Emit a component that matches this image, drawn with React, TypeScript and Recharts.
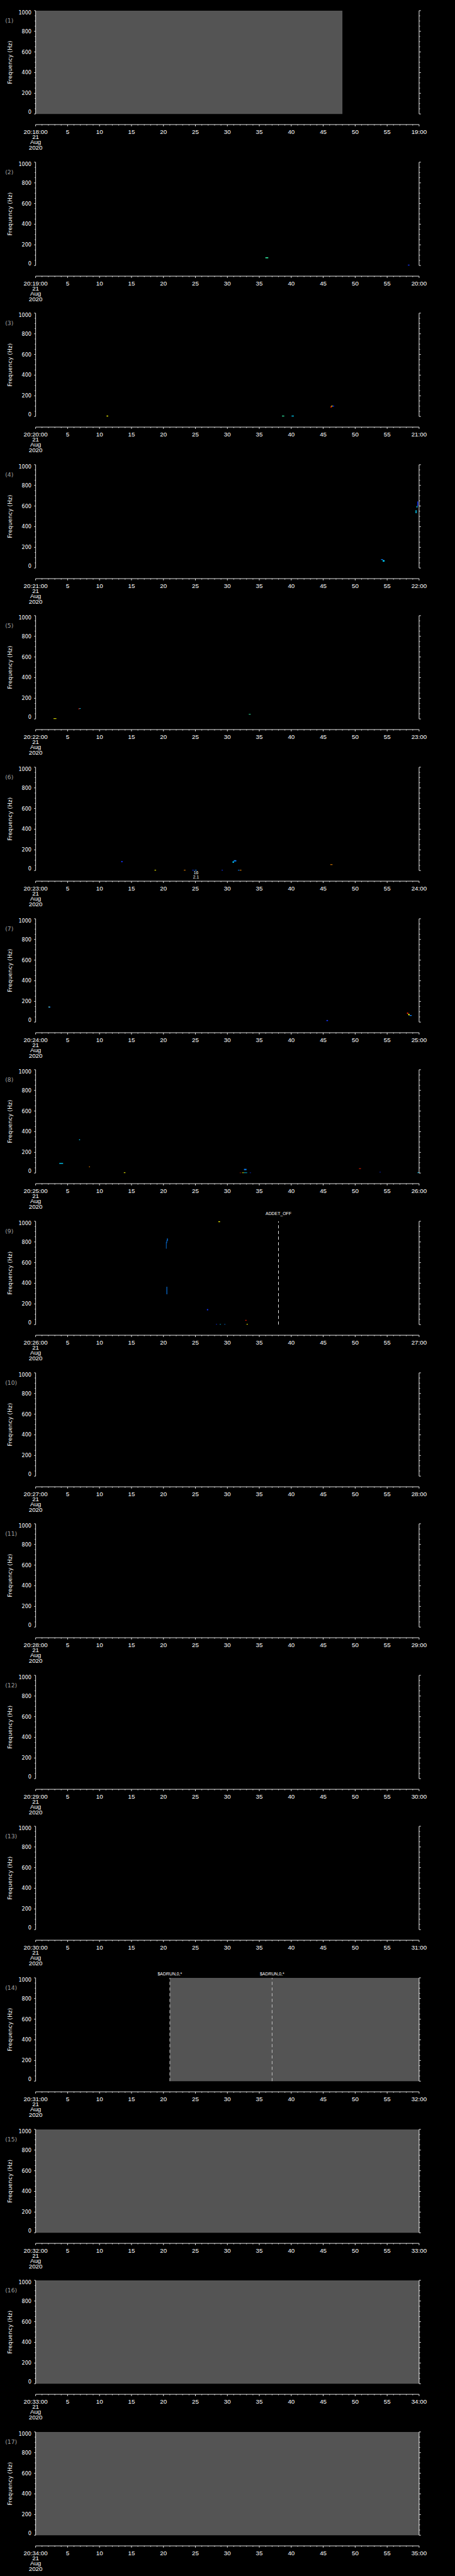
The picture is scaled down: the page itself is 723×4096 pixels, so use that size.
import React from 'react';
import { ComposedChart, XAxis, YAxis, ReferenceArea, ReferenceLine, ReferenceDot, Scatter } from 'recharts';

// ---------- data ----------
const PANEL_NUMBERS = [1, 2, 3, 4, 5, 6, 7, 8, 9, 10, 11, 12, 13, 14, 15, 16, 17];
const START_HOUR = 20;
const START_MINUTES = [18, 19, 20, 21, 22, 23, 24, 25, 26, 27, 28, 29, 30, 31, 32, 33, 34];
const DATE_LINES = ['21', 'Aug', '2020'];
const Y_TICKS = [0, 50, 100, 150, 200, 250, 300, 350, 400, 450, 500, 550, 600, 650, 700, 750, 800, 850, 900, 950, 1000];
const Y_MAJOR_STEP = 200;
const X_TICKS = Array.from({ length: 61 }, (_, i) => i);
const X_MAJOR_STEP = 5;
const Y_LABEL = 'Frequency (Hz)';
// corners of each panel's time/frequency frame
const FRAME_T = [0, 60];
const FRAME_F = [0, 1000];

// grey (saturated / no-data) spans: panel number, start s, end s
const FILL_PANEL = [1, 14, 15, 16, 17];
const FILL_START = [0, 21, 0, 0, 0];
const FILL_END = [48, 60, 60, 60, 60];

// event markers: panel number, time s, text
const EVENT_PANEL = [9, 14, 14];
const EVENT_TIME = [38, 21, 37];
const EVENT_TEXT = ['ADDET_OFF', '$ADRUN,0,*', '$ADRUN,0,*'];

// small annotations: panel number, time s, freq Hz, text
const NOTE_PANEL = [6, 6];
const NOTE_TIME = [25.1, 25.1];
const NOTE_FREQ = [-36, -80];
const NOTE_TEXT = ['16', '2.1'];

// spectrogram blobs: [t0, t1, f0, f1, intensity level]
const MARKS_02 = [
  [35.95, 36.4, 70, 80, 4],
  [58.25, 58.5, 0, 8, 1],
];
const MARKS_03 = [
  [11.1, 11.35, 0, 8, 5],
  [38.55, 38.9, 0, 8, 4],
  [40.05, 40.4, 0, 8, 3],
  [46.15, 46.3, 85, 100, 7],
  [46.3, 46.45, 95, 106, 5],
  [46.45, 46.7, 96, 104, 1],
];
const MARKS_04 = [
  [59.72, 59.86, 600, 645, 1],
  [59.6, 59.74, 585, 600, 3],
  [59.45, 59.6, 530, 560, 3],
  [54.05, 54.35, 78, 86, 2],
  [54.3, 54.6, 62, 76, 3],
];
const MARKS_05 = [
  [2.8, 3.25, 0, 6, 5],
  [6.7, 6.85, 94, 102, 7],
  [6.85, 7.05, 98, 104, 3],
  [33.35, 33.65, 42, 48, 4],
];
const MARKS_06 = [
  [13.4, 13.6, 80, 92, 1],
  [30.8, 31.05, 76, 88, 3],
  [31.0, 31.4, 88, 100, 2],
  [46.1, 46.45, 54, 60, 6],
  [18.6, 18.85, 0, 6, 5],
  [23.2, 23.45, 0, 6, 6],
  [24.5, 24.75, 0, 6, 1],
  [24.9, 25.2, 0, 6, 2],
  [29.1, 29.3, 0, 6, 1],
  [31.65, 31.9, 0, 6, 2],
  [31.95, 32.2, 0, 6, 6],
];
const MARKS_07 = [
  [2.0, 2.3, 140, 150, 2],
  [2.05, 2.15, 144, 150, 5],
  [45.5, 45.75, 10, 20, 1],
  [58.1, 58.3, 80, 92, 7],
  [58.3, 58.5, 66, 80, 5],
  [58.5, 58.85, 60, 68, 2],
];
const MARKS_08 = [
  [6.8, 6.95, 318, 326, 3],
  [3.7, 4.3, 89, 97, 3],
  [8.35, 8.5, 57, 63, 6],
  [13.8, 14.05, 0, 6, 5],
  [32.6, 33.0, 28, 40, 2],
  [32.3, 32.6, 0, 5, 5],
  [32.6, 33.1, 0, 5, 3],
  [33.5, 33.7, 0, 4, 1],
  [31.95, 32.1, 0, 4, 7],
  [50.6, 50.9, 40, 46, 7],
  [53.8, 54.0, 6, 10, 1],
  [59.75, 60, 0, 6, 3],
];
const MARKS_09 = [
  [28.6, 28.85, 992, 1000, 5],
  [20.4, 20.48, 735, 800, 2],
  [20.48, 20.56, 790, 815, 2],
  [20.56, 20.68, 810, 833, 2],
  [20.48, 20.58, 293, 366, 2],
  [26.8, 27.0, 138, 150, 1],
  [32.8, 33.0, 38, 45, 7],
  [33.0, 33.2, 0, 6, 5],
  [28.2, 28.4, 0, 4, 1],
  [28.8, 29.0, 0, 4, 3],
  [29.5, 29.7, 0, 4, 2],
];
const PANEL_MARKS: number[][][] = [
  [], MARKS_02, MARKS_03, MARKS_04, MARKS_05, MARKS_06, MARKS_07, MARKS_08, MARKS_09,
  [], [], [], [], [], [], [], [],
];

// ---------- styles / layout ----------
const S = 0.705;
const CHART_W = 722;
const CHART_H = 241;
const PITCH = 341.3 * S;
const TOP = 24 * S;
const PLOT_H = 257 * S;
const LEFT_W = 80.3 * S;
const RIGHT_W = 79.5 * S;
const Y_MIN = -103;
const LEVEL_COLORS = ['#000000', '#1434ff', '#0a84ff', '#00d4ff', '#30e8a0', '#ffff00', '#ff9000', '#ff2000'];
const FILL_GREY = '#545454';
const FONT_X = "'Liberation Sans', Arial, sans-serif";
const FONT_Y = "'DejaVu Sans', sans-serif";
const LW = 0.9;

const FRAME = FRAME_T.map((t, i) => ({ t, f: FRAME_F[i] }));

const pad2 = (v: number) => (v < 10 ? '0' + v : String(v));

function XTick(props: any) {
  const { x, y, payload, minute } = props;
  const v = payload.value;
  const major = v % X_MAJOR_STEP === 0;
  const len = major ? 2.8 : 1.4;
  let txt = String(v);
  if (v === 0) txt = `${START_HOUR}:${pad2(minute)}:00`;
  if (v === 60) txt = `${pad2(minute + 1)}:00`;
  return (
    <g>
      <line x1={x} x2={x} y1={y} y2={y + len} stroke="#fff" strokeWidth={LW} />
      {major && (
        <text x={x} y={y + 14.4} textAnchor="middle" fill="#fff" fontSize={9.8} fontFamily={FONT_X}>
          {txt}
        </text>
      )}
      {v === 0 &&
        DATE_LINES.map((d, i) => (
          <text key={d} x={x} y={y + 22.6 + i * 8.7} textAnchor="middle" fill="#fff" fontSize={9.8} fontFamily={FONT_X}>
            {d}
          </text>
        ))}
    </g>
  );
}

function YTickLeft(props: any) {
  const { x, y, payload } = props;
  const v = payload.value;
  const major = v % Y_MAJOR_STEP === 0;
  const len = major ? 2.4 : 1.4;
  let dy = 3.0;
  if (v === 1000) dy = 5.6;
  if (v === 0) dy = 0;
  return (
    <g>
      <line x1={x - len} x2={x} y1={y} y2={y} stroke="#fff" strokeWidth={LW} />
      {major && (
        <text x={x - 6.6} y={y + dy} textAnchor="end" fill="#fff" fontSize={8.1} fontFamily={FONT_Y}>
          {v}
        </text>
      )}
    </g>
  );
}

function YTickRight(props: any) {
  const { x, y, payload } = props;
  const v = payload.value;
  const major = v % Y_MAJOR_STEP === 0;
  const len = major ? 2.8 : 1.6;
  return <line x1={x} x2={x + len} y1={y} y2={y} stroke="#fff" strokeWidth={LW} />;
}

function Panel({ index }: { index: number }) {
  const n = PANEL_NUMBERS[index];
  const minute = START_MINUTES[index];
  const marks = PANEL_MARKS[index];
  const fills = FILL_PANEL.map((p, i) => ({ p, t0: FILL_START[i], t1: FILL_END[i] })).filter((f) => f.p === n);
  const events = EVENT_PANEL.map((p, i) => ({ p, t: EVENT_TIME[i], text: EVENT_TEXT[i] })).filter((e) => e.p === n);
  const notes = NOTE_PANEL.map((p, i) => ({ p, t: NOTE_TIME[i], f: NOTE_FREQ[i], text: NOTE_TEXT[i] })).filter((e) => e.p === n);
  const inGrey = fills.length > 0;

  return (
    <div style={{ position: 'absolute', left: 0, top: index * PITCH }}>
      <ComposedChart width={CHART_W} height={CHART_H} margin={{ top: TOP, right: 0, bottom: 0, left: 0 }} data={FRAME}>
        <XAxis
          xAxisId="x"
          dataKey="t"
          type="number"
          domain={[0, 60]}
          allowDataOverflow
          ticks={X_TICKS}
          interval={0}
          tickSize={0}
          tickMargin={0}
          height={CHART_H - TOP - PLOT_H}
          axisLine={{ stroke: '#fff', strokeWidth: LW }}
          tickLine={false}
          tick={(p: any) => <XTick {...p} minute={minute} />}
        />
        <YAxis
          yAxisId="l"
          type="number"
          domain={[Y_MIN, 1000]}
          allowDataOverflow
          ticks={Y_TICKS}
          interval={0}
          width={LEFT_W}
          tickSize={0}
          tickMargin={0}
          axisLine={false}
          tickLine={false}
          tick={(p: any) => <YTickLeft {...p} />}
          label={{
            content: () => (
              <g>
                <text x={8.2} y={TOP + 19.0} fill="#a0a0a0" fontSize={9.2} fontFamily={FONT_Y}>
                  ({n})
                </text>
                <text
                  transform={`translate(19.2 ${TOP + 116.5 * S}) rotate(-90)`}
                  textAnchor="middle"
                  fill="#fff"
                  fontSize={8.7}
                  letterSpacing={0.25}
                  fontFamily={FONT_Y}
                >
                  {Y_LABEL}
                </text>
              </g>
            ),
          }}
        />
        <YAxis
          yAxisId="r"
          orientation="right"
          type="number"
          domain={[Y_MIN, 1000]}
          allowDataOverflow
          ticks={Y_TICKS}
          interval={0}
          width={RIGHT_W}
          tickSize={0}
          tickMargin={0}
          axisLine={false}
          tickLine={false}
          tick={(p: any) => <YTickRight {...p} />}
        />
        <Scatter
          xAxisId="x"
          yAxisId="l"
          dataKey="f"
          data={FRAME}
          shape={() => <g />}
          isAnimationActive={false}
        />
        {fills.map((f, i) => (
          <ReferenceArea
            key={'f' + i}
            xAxisId="x"
            yAxisId="l"
            x1={f.t0}
            x2={f.t1}
            y1={0}
            y2={1000}
            fill={FILL_GREY}
            fillOpacity={1}
            stroke="none"
          />
        ))}
        {marks.map((m, i) => (
          <ReferenceArea
            key={'m' + i}
            xAxisId="x"
            yAxisId="l"
            x1={m[0]}
            x2={m[1]}
            y1={m[2]}
            y2={m[3]}
            fill={LEVEL_COLORS[m[4]]}
            fillOpacity={1}
            stroke="none"
          />
        ))}
        {events.map((e, i) => (
          <ReferenceLine
            key={'e' + i}
            xAxisId="x"
            yAxisId="l"
            segment={[{ x: e.t, y: 0 }, { x: e.t, y: 1000 }]}
            stroke={inGrey ? '#cfcfcf' : '#ffffff'}
            strokeWidth={LW}
            strokeDasharray="5 4"
            ifOverflow="visible"
            label={{
              content: (p: any) => {
                const vb = p.viewBox || { x: 0, y: TOP };
                return (
                  <text
                    x={vb.x}
                    y={vb.y - (inGrey ? 4.0 : 10.0)}
                    textAnchor="middle"
                    fill="#fff"
                    fontSize={6.9}
                    fontFamily={FONT_X}
                  >
                    {e.text}
                  </text>
                );
              },
            }}
          />
        ))}
        {notes.map((o, i) => (
          <ReferenceDot
            key={'n' + i}
            xAxisId="x"
            yAxisId="l"
            x={o.t}
            y={o.f}
            r={0}
            stroke="none"
            fill="none"
            ifOverflow="visible"
            label={{
              content: (p: any) => {
                const vb = p.viewBox || { x: 0, y: 0 };
                return (
                  <text x={vb.x} y={vb.y} textAnchor="middle" fill="#fff" fontSize={6.7} fontFamily={FONT_X}>
                    {o.text}
                  </text>
                );
              },
            }}
          />
        ))}
        <ReferenceLine
          xAxisId="x"
          yAxisId="l"
          segment={[{ x: 0, y: 0 }, { x: 0, y: 1000 }]}
          stroke="#fff"
          strokeWidth={LW}
          ifOverflow="visible"
        />
        <ReferenceLine
          xAxisId="x"
          yAxisId="l"
          segment={[{ x: 60, y: 0 }, { x: 60, y: 1000 }]}
          stroke="#fff"
          strokeWidth={LW}
          ifOverflow="visible"
        />
      </ComposedChart>
    </div>
  );
}

export default function App() {
  return (
    <div style={{ position: 'absolute', left: 0, top: 0, width: 723, height: 4096, background: '#000', overflow: 'hidden' }}>
      {PANEL_NUMBERS.map((_, i) => (
        <Panel key={i} index={i} />
      ))}
    </div>
  );
}
